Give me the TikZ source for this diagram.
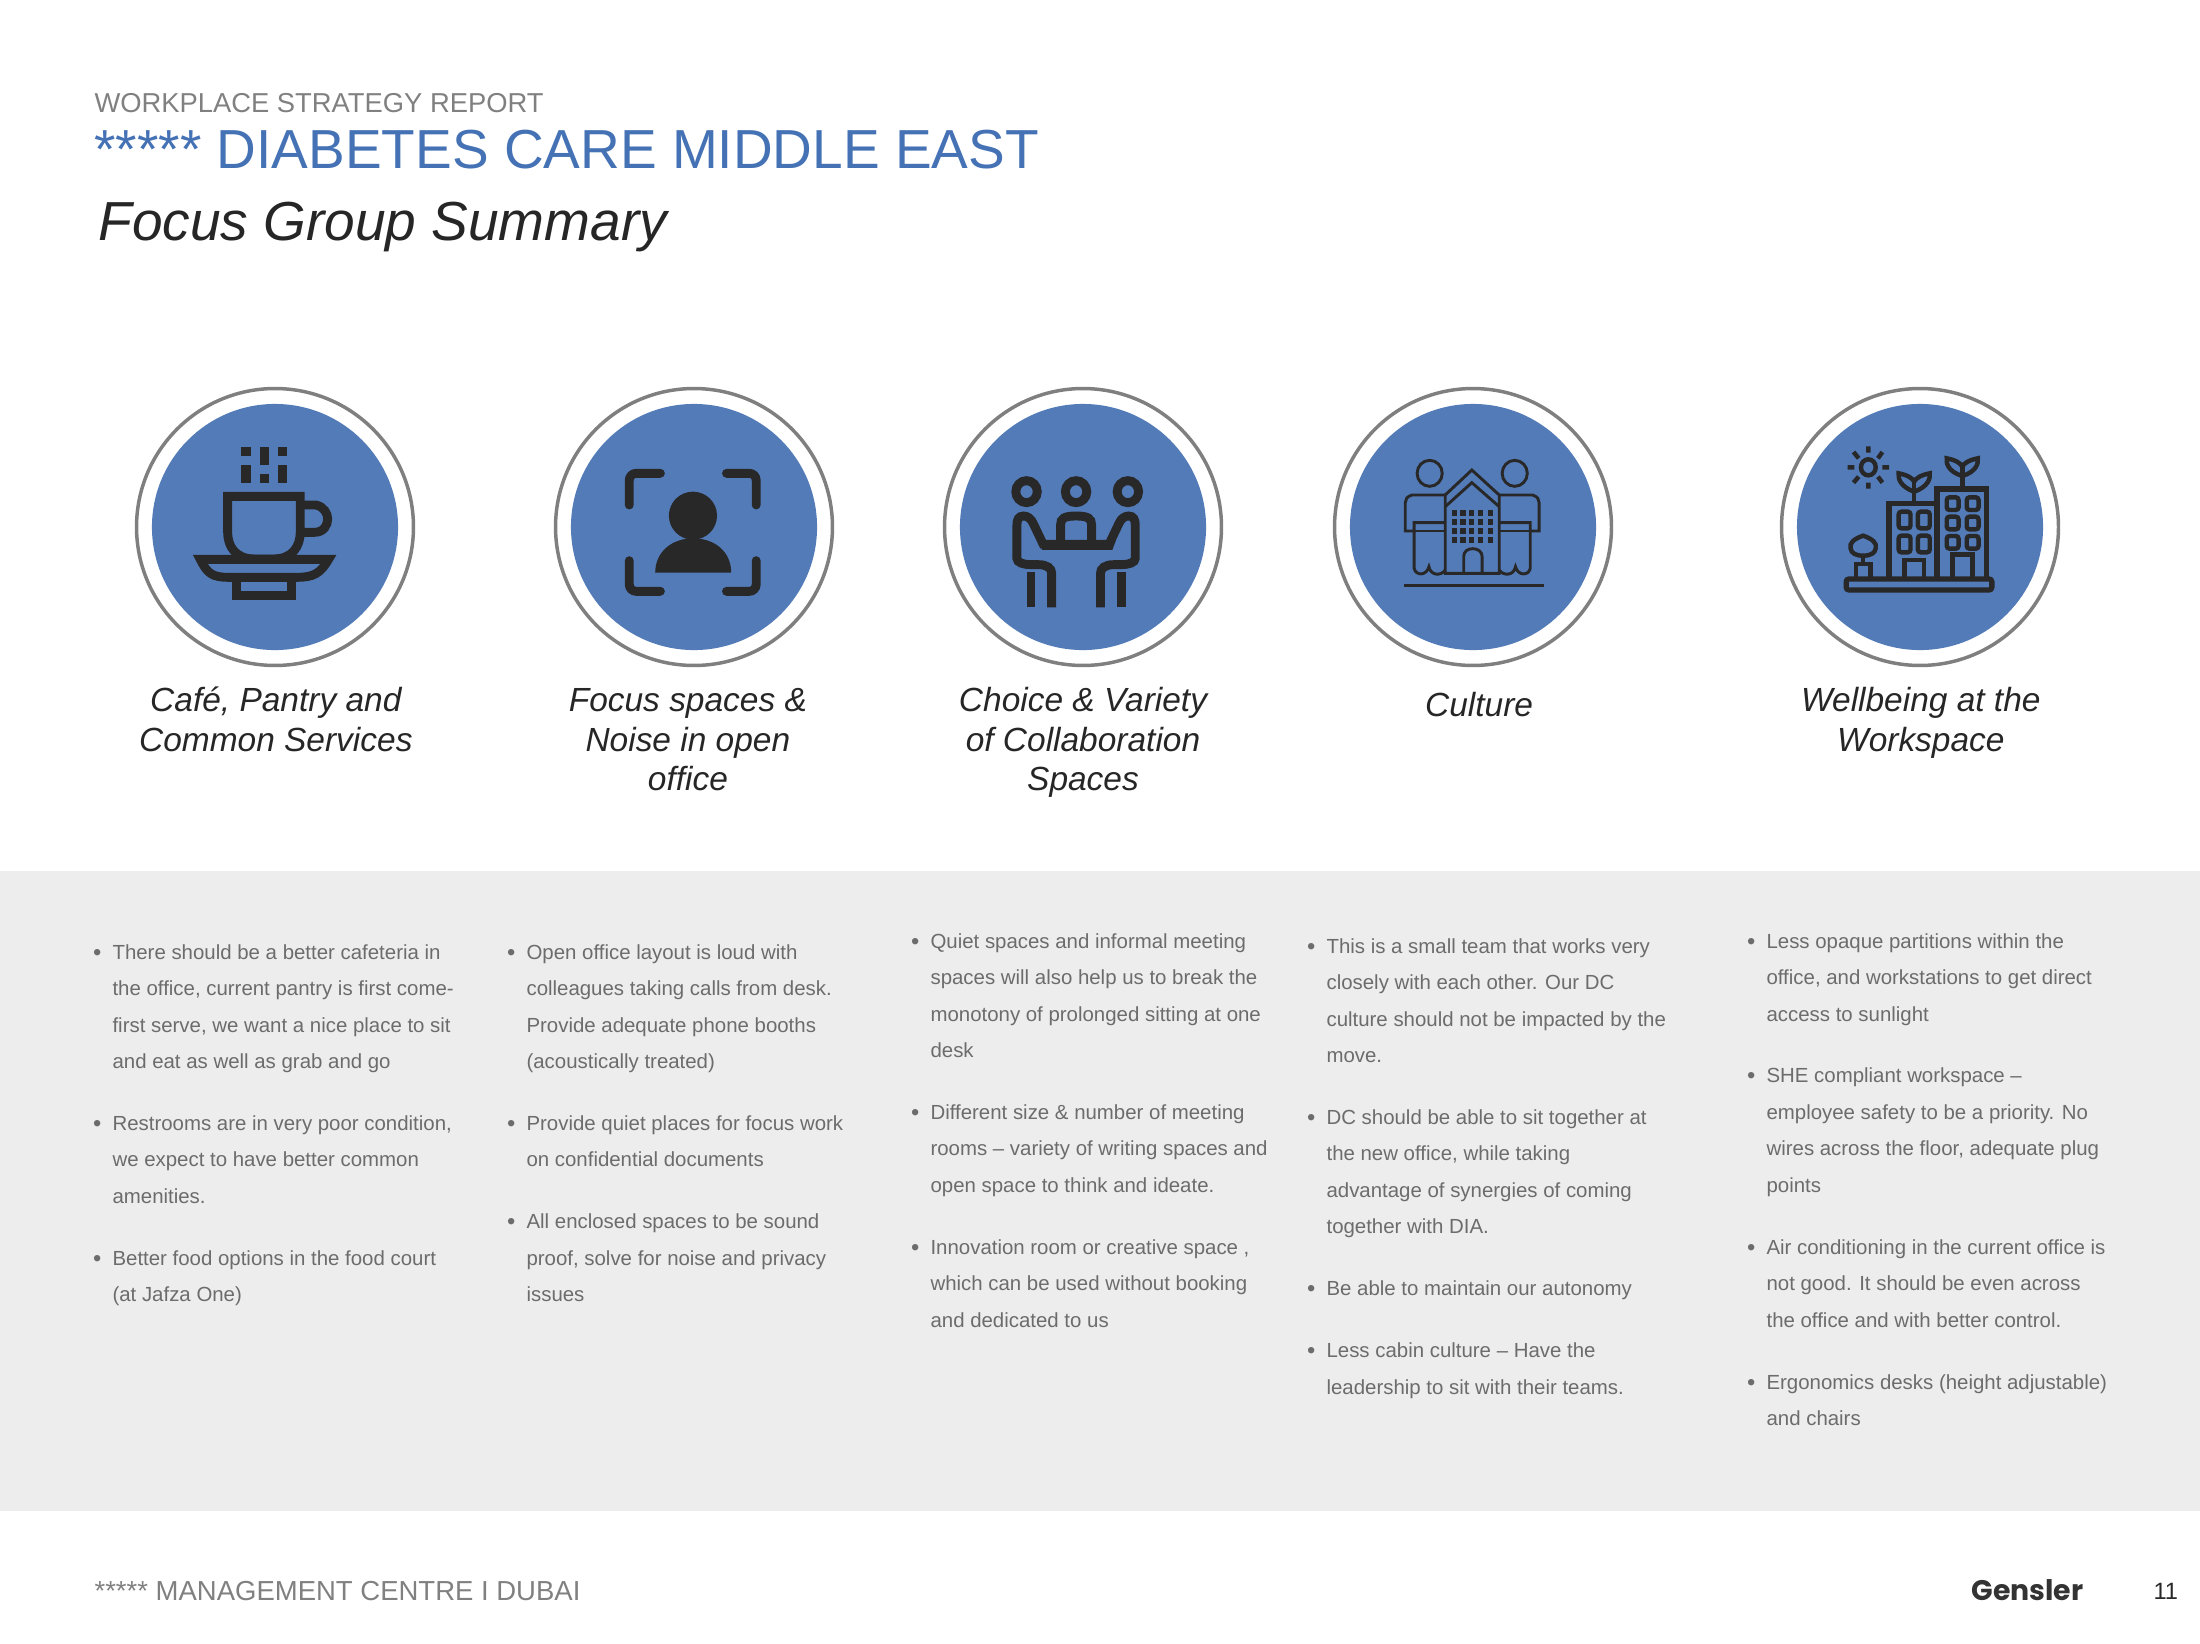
\documentclass[tikz,border=0pt]{standalone}
\usepackage{fontspec}
\setmainfont{Liberation Sans}
\newfontfamily\logofont{Poppins}
\usetikzlibrary{positioning}

\definecolor{titleblue}{HTML}{4472B5}
\definecolor{discblue}{HTML}{537BB8}
\definecolor{ringgray}{HTML}{7F7F7F}
\definecolor{bandgray}{HTML}{EDEDED}
\definecolor{bodygray}{HTML}{6C6C6C}
\definecolor{headgray}{HTML}{808080}
\definecolor{icondark}{HTML}{282828}

\newcommand{\itemdot}{\strut\llap{\raisebox{-0.35pt}{\fontsize{8.5}{9}\selectfont\textbullet}\hspace{4pt}}}

\tikzset{
  ring/.style={circle,draw=ringgray,line width=1.25pt,minimum size=99.7pt,inner sep=0pt,outer sep=0pt},
  disc/.style={circle,fill=discblue,minimum size=88.6pt,inner sep=0pt,outer sep=0pt},
  caption/.style={align=center,inner sep=0pt,text=black!85,font=\fontsize{12.05}{14.2}\selectfont\itshape},
  itemtext/.style={align=left,inner sep=0pt,anchor=north west,text=bodygray,
    font=\fontsize{7.35}{13.13}\selectfont},
  itemafter/.style={below=8.75pt of #1.south west,anchor=north west},
  iconA/.style={x=0.1699pt,y=-0.12pt},
  iconB/.style={x=0.2663pt,y=-0.12pt},
  heavy/.style={draw=icondark,line width=3.2pt},
  medium/.style={draw=icondark,line width=1.6pt},
  thin line/.style={draw=icondark,line width=1.05pt}
}

\begin{document}
\begin{tikzpicture}[x=0.36pt,y=-0.36pt]
  \useasboundingbox (0,0) rectangle (2200,1643);
  \fill[bandgray] (0,871) rectangle (2200,1511);

  % page heading
  \node[anchor=west,inner sep=0pt,text=headgray,font=\fontsize{9.85}{12}\selectfont] (report) at (94,103) {WORKPLACE STRATEGY REPORT};
  \node[anchor=west,inner sep=0pt,text=titleblue,font=\fontsize{19.8}{24}\selectfont] (client) at (94,150) {***** DIABETES CARE MIDDLE EAST};
  \node[anchor=west,inner sep=0pt,text=black!85,font=\fontsize{19.8}{24}\selectfont\itshape] (summary) at (98,227) {Focus Group Summary};

  % circles
  \foreach \n/\x in {1/275,2/694,3/1083,4/1473,5/1920}{
    \node[ring] (ring\n) at (\x,527) {};
    \node[disc] (disc\n) at (\x,527) {};
  }

  % captions
  \node[caption,xshift=0.3pt] (cap1) [below=6.5pt of ring1] {\strut Café, Pantry and\\Common Services\strut};
  \node[caption,xshift=-2.2pt] (cap2) [below=6.5pt of ring2] {\strut Focus spaces \&\\Noise in open\\office\strut};
  \node[caption] (cap3) [below=6.5pt of ring3] {\strut Choice \& Variety\\of Collaboration\\Spaces\strut};
  \node[caption,xshift=2.2pt] (cap4) [below=8.3pt of ring4] {\strut Culture\strut};
  \node[caption,xshift=0.3pt] (cap5) [below=6.5pt of ring5] {\strut Wellbeing at the\\Workspace\strut};

  % cup
  \begin{scope}[shift={(120,370)},iconA]
    \foreach \xa/\ya/\xb/\yb in {257/231/277/258,296/231/316/285,335/231/354/258,257/285/277/338,296/312/316/338,335/285/354/338}
      \fill[icondark] (\xa,\ya) rectangle (\xb,\yb);
    \draw[heavy] (382,379) -- (228,379) -- (228,485) .. controls (228,530) and (245,567) .. (285,567)
      -- (325,567) .. controls (365,567) and (382,530) .. (382,485) -- cycle;
    \draw[heavy] (382,405) -- (415,405) .. controls (432,410) and (440,430) .. (440,447)
      .. controls (440,465) and (432,487) .. (412,487) -- (382,487);
    \draw[heavy] (170,568) -- (442,568) .. controls (425,610) and (410,622) .. (375,622)
      -- (230,622) .. controls (195,622) and (185,610) .. cycle;
    \draw[heavy] (247,622) rectangle (363,676);
  \end{scope}

  % person in a frame
  \begin{scope}[shift={(120,370)},iconA]
    \draw[heavy,line cap=round,rounded corners=2.5pt] (1079,405) -- (1079,310) -- (1145,310);
    \draw[heavy,line cap=round,rounded corners=2.5pt] (1285,310) -- (1348,310) -- (1348,405);
    \draw[heavy,line cap=round,rounded corners=2.5pt] (1079,572) -- (1079,664) -- (1145,664);
    \draw[heavy,line cap=round,rounded corners=2.5pt] (1285,664) -- (1348,664) -- (1348,572);
    \fill[icondark] (1214,437) ellipse [x radius=51,y radius=72];
    \fill[icondark] (1134,608) .. controls (1134,545) and (1170,505) .. (1214,505)
      .. controls (1260,505) and (1295,545) .. (1295,608) -- cycle;
  \end{scope}

  % three people at a table
  \begin{scope}[shift={(920,370)},iconB]
    \foreach \x in {144,211,281}
      \draw[draw=icondark,line width=3.2pt] (\x,365) ellipse [x radius=14.5,y radius=33];
    \draw[heavy] (190,515) -- (190,465) .. controls (190,445) and (195,438) .. (211,438)
      .. controls (227,438) and (232,445) .. (232,465) -- (232,515);
    \fill[icondark] (160,510) -- (265,510) -- (260,540) -- (165,540) -- cycle;
    \draw[heavy] (168,530) -- (153,460) .. controls (150,445) and (145,438) .. (140,438)
      .. controls (133,438) and (131,450) .. (131,465) -- (131,565)
      .. controls (131,578) and (140,584) .. (150,584) -- (160,584)
      .. controls (172,584) and (178,595) .. (178,610) -- (178,712);
    \draw[heavy] (150,712) -- (150,605);
    \draw[heavy] (254,530) -- (269,460) .. controls (272,445) and (277,438) .. (282,438)
      .. controls (289,438) and (291,450) .. (291,465) -- (291,565)
      .. controls (291,578) and (282,584) .. (272,584) -- (262,584)
      .. controls (250,584) and (244,595) .. (244,610) -- (244,712);
    \draw[heavy] (272,712) -- (272,605);
  \end{scope}

  % two people and a house
  \begin{scope}[shift={(920,370)},iconB]
    \draw[thin line] (689,310) ellipse [x radius=17,y radius=39];
    \draw[thin line] (804,310) ellipse [x radius=17,y radius=39];
    \draw[thin line,line width=1.3pt] (654,646) -- (843,646);
    \draw[thin line] (710,610) -- (710,375) -- (746,300) -- (783,375) -- (783,610) -- cycle;
    \draw[thin line] (710,410) -- (746,338) -- (783,410);
    \foreach \x in {722,734,746,758,771}
      \foreach \y in {430,457,483,510}
        \fill[icondark] (\x-3.5,\y-9) rectangle (\x+3.5,\y+9);
    \draw[thin line] (735,610) -- (735,560) .. controls (735,545) and (740,536) .. (747,536)
      .. controls (754,536) and (760,545) .. (760,560) -- (760,610);
    % left one
    \draw[thin line] (710,375) -- (665,375) .. controls (658,380) and (656,388) .. (656,398) -- (656,483) -- (668,483)
      -- (668,458) -- (710,458);
    \draw[thin line] (668,483) -- (668,595) .. controls (670,618) and (685,618) .. (688,590)
      .. controls (690,618) and (705,618) .. (710,600);
    \draw[thin line] (668,483) -- (710,483);
    % right one
    \draw[thin line] (783,375) -- (828,375) .. controls (835,380) and (837,388) .. (837,398) -- (837,483) -- (825,483)
      -- (825,458) -- (783,458);
    \draw[thin line] (825,483) -- (825,595) .. controls (823,618) and (808,618) .. (805,590)
      .. controls (803,618) and (788,618) .. (783,600);
    \draw[thin line] (825,483) -- (783,483);
  \end{scope}

  % green buildings
  \begin{scope}[shift={(920,370)},iconB]
    \draw[medium] (1282,292) ellipse [x radius=10,y radius=24];
    \draw[medium] (1282,229) -- (1282,248) (1282,338) -- (1282,356) (1254,292) -- (1263,292) (1301,292) -- (1310,292)
      (1262,246) -- (1269,265) (1301,246) -- (1295,265) (1262,338) -- (1269,320) (1301,338) -- (1295,320);
    \draw[heavy,line width=1.9pt] (1310,625) -- (1310,400) -- (1375,400) -- (1375,625);
    \draw[heavy,line width=1.9pt] (1375,400) -- (1375,357) -- (1442,357) -- (1442,625);
    \foreach \x in {1331,1357}
      \foreach \y in {450,522}
        \draw[medium,rounded corners=1pt] (\x-8,\y-25) rectangle (\x+8,\y+25);
    \foreach \x in {1396,1423}
      \foreach \y in {401,459,517}
        \draw[medium,rounded corners=1pt] (\x-8,\y-19) rectangle (\x+8,\y+19);
    \draw[medium] (1331,625) -- (1331,570) -- (1357,570) -- (1357,625);
    \draw[medium] (1396,625) -- (1396,553) -- (1423,553) -- (1423,625);
    % plants on the roofs
    \draw[medium] (1344,400) -- (1344,335);
    \draw[medium] (1344,365) .. controls (1325,350) and (1322,325) .. (1323,310) .. controls (1335,315) and (1342,325) .. (1344,335)
      .. controls (1346,325) and (1353,315) .. (1365,310) .. controls (1366,325) and (1363,350) .. (1344,365);
    \draw[medium] (1409,355) -- (1409,290);
    \draw[medium] (1409,318) .. controls (1390,305) and (1387,280) .. (1388,265) .. controls (1400,270) and (1407,280) .. (1409,290)
      .. controls (1411,280) and (1418,270) .. (1430,265) .. controls (1431,280) and (1428,305) .. (1409,318);
    % tree
    \draw[medium] (1275,497) .. controls (1262,507) and (1256,520) .. (1258,535) .. controls (1259,550) and (1265,557) .. (1275,557)
      .. controls (1285,557) and (1291,550) .. (1292,535) .. controls (1294,520) and (1288,507) .. cycle;
    \draw[medium] (1275,557) -- (1275,582);
    \draw[medium] (1265,622) -- (1265,582) -- (1285,582) -- (1285,622);
    % ground
    \draw[heavy,line width=1.9pt,rounded corners=1pt] (1252,627) rectangle (1449,660);
  \end{scope}

  % first column
  \node[itemtext] (itemAa) at (112,933) {\itemdot There should be a better cafeteria in\\the office, current pantry is first come-\\first serve, we want a nice place to sit\\and eat as well as grab and go\strut};
  \node[itemtext,itemafter=itemAa] (itemAb) {\itemdot Restrooms are in very poor condition,\\we expect to have better common\\amenities.\strut};
  \node[itemtext,itemafter=itemAb] (itemAc) {\itemdot Better food options in the food court\\(at Jafza One)\strut};

  % second column
  \node[itemtext] (itemBa) at (526,933) {\itemdot Open office layout is loud with\\colleagues taking calls from desk.\\Provide adequate phone booths\\(acoustically treated)\strut};
  \node[itemtext,itemafter=itemBa] (itemBb) {\itemdot Provide quiet places for focus work\\on confidential documents\strut};
  \node[itemtext,itemafter=itemBb] (itemBc) {\itemdot All enclosed spaces to be sound\\proof, solve for noise and privacy\\issues\strut};

  % third column
  \node[itemtext] (itemCa) at (930,922) {\itemdot Quiet spaces and informal meeting\\spaces will also help us to break the\\monotony of prolonged sitting at one\\desk\strut};
  \node[itemtext,itemafter=itemCa] (itemCb) {\itemdot Different size \& number of meeting\\rooms -- variety of writing spaces and\\open space to think and ideate.\strut};
  \node[itemtext,itemafter=itemCb] (itemCc) {\itemdot Innovation room or creative space ,\\which can be used without booking\\and dedicated to us\strut};

  % fourth column
  \node[itemtext] (itemDa) at (1326,927) {\itemdot This is a small team that works very\\closely with each other. Our DC\\culture should not be impacted by the\\move.\strut};
  \node[itemtext,itemafter=itemDa] (itemDb) {\itemdot DC should be able to sit together at\\the new office, while taking\\advantage of synergies of coming\\together with DIA.\strut};
  \node[itemtext,itemafter=itemDb] (itemDc) {\itemdot Be able to maintain our autonomy\strut};
  \node[itemtext,itemafter=itemDc] (itemDd) {\itemdot Less cabin culture -- Have the\\leadership to sit with their teams.\strut};

  % fifth column
  \node[itemtext] (itemEa) at (1766,922) {\itemdot Less opaque partitions within the\\office, and workstations to get direct\\access to sunlight\strut};
  \node[itemtext,itemafter=itemEa] (itemEb) {\itemdot SHE compliant workspace --\\employee safety to be a priority. No\\wires across the floor, adequate plug\\points\strut};
  \node[itemtext,itemafter=itemEb] (itemEc) {\itemdot Air conditioning in the current office is\\not good. It should be even across\\the office and with better control.\strut};
  \node[itemtext,itemafter=itemEc] (itemEd) {\itemdot Ergonomics desks (height adjustable)\\and chairs\strut};

  % footer
  \node[anchor=west,inner sep=0pt,text=headgray,font=\fontsize{9.9}{12}\selectfont] (place) at (94,1591) {***** MANAGEMENT CENTRE I DUBAI};
  \node[anchor=west,inner sep=0pt,text=icondark!95,font=\fontsize{10.2}{13}\selectfont\logofont\bfseries] (logo) at (1971,1590) {Gensler};
  \node[anchor=west,inner sep=0pt,text=icondark,font=\fontsize{8.5}{10}\selectfont] (page) at (2153,1591) {11};
\end{tikzpicture}
\end{document}
